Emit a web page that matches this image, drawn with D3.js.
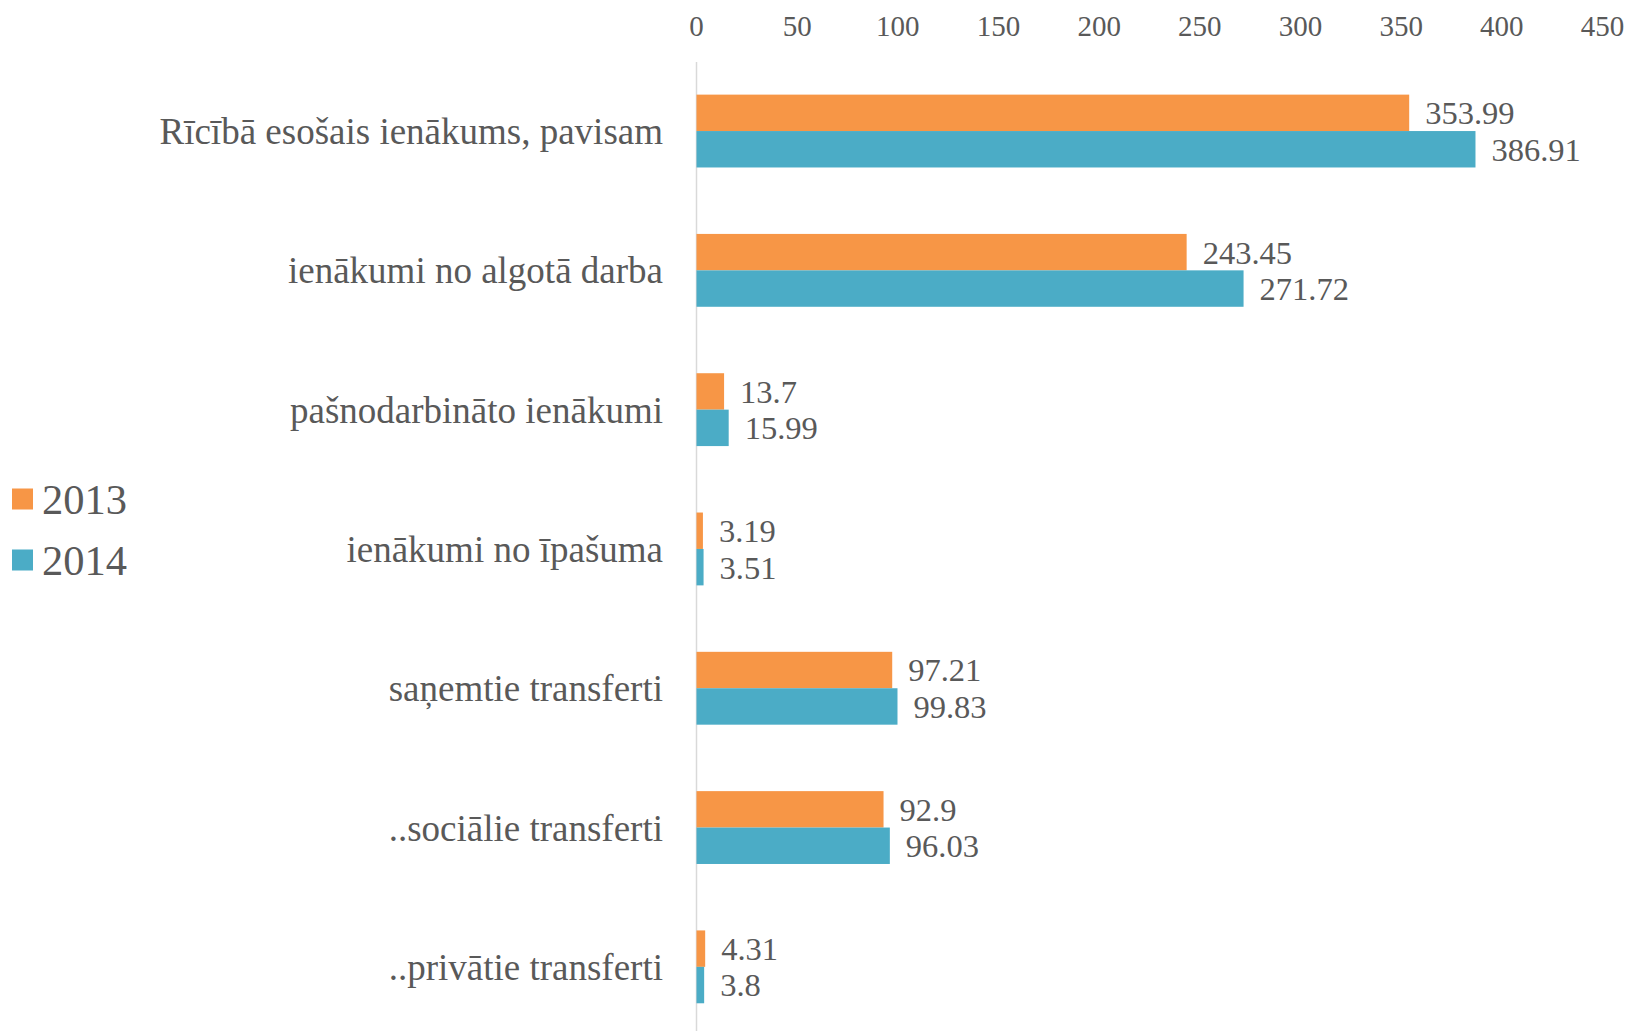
<!DOCTYPE html>
<html>
<head>
<meta charset="utf-8">
<script src="https://cdn.jsdelivr.net/npm/d3@7"></script>
<style>
  body { margin: 0; background: #fff; }
  svg text { font-family: "Liberation Serif", "Times New Roman", serif; fill: #595959; }
</style>
</head>
<body>
<svg id="chart" width="1630" height="1031"></svg>
<script>

const categories = [
	"Rīcībā esošais ienākums, pavisam",
	"ienākumi no algotā darba",
	"pašnodarbināto ienākumi",
	"ienākumi no īpašuma",
	"saņemtie transferti",
	"..sociālie transferti",
	"..privātie transferti"
];
const series_names = ["2013", "2014"];
const values_2013 = [353.99, 243.45, 13.7, 3.19, 97.21, 92.9, 4.31];
const values_2014 = [386.91, 271.72, 15.99, 3.51, 99.83, 96.03, 3.8];
const x_ticks = [0, 50, 100, 150, 200, 250, 300, 350, 400, 450];
const colors = ["#f79646", "#4bacc6"];

const svg = d3.select('#chart');

const x = d3.scaleLinear().domain([0, 450]).range([696.5, 1602.5]);
const y = d3.scaleBand().domain(categories)
	.range([61.4, 1036.5])
	.paddingInner(0.477)
	.paddingOuter(0.2385);
const sub = d3.scaleBand().domain(series_names).range([0, y.bandwidth()]);

// vertical axis line at zero
svg.append('line')
	.attr('x1', x(0)).attr('x2', x(0))
	.attr('y1', 62).attr('y2', 1031)
	.attr('stroke', '#d9d9d9')
	.attr('stroke-width', 1.5);

// top tick labels
svg.selectAll('.tick-label')
	.data(x_ticks)
	.enter()
	.append('text')
		.attr('class', 'tick-label')
		.attr('x', d => x(d))
		.attr('y', 26)
		.attr('dy', '.35em')
		.attr('text-anchor', 'middle')
		.style('font-size', '29px')
		.text(d => d);

// category labels
svg.selectAll('.cat-label')
	.data(categories)
	.enter()
	.append('text')
		.attr('class', 'cat-label')
		.attr('x', 663)
		.attr('y', d => y(d) + y.bandwidth()/2)
		.attr('dy', '.35em')
		.attr('text-anchor', 'end')
		.style('font-size', '37px')
		.text(d => d);

const series = [values_2013, values_2014];

series.forEach(function(vals, si){
	const name = series_names[si];
	const rows = categories.map((c, i) => ({cat: c, v: vals[i]}));

	svg.selectAll('.bar-' + name)
		.data(rows)
		.enter()
		.append('rect')
			.attr('class', 'bar-' + name)
			.attr('x', x(0))
			.attr('y', d => y(d.cat) + sub(name))
			.attr('width', d => x(d.v) - x(0))
			.attr('height', sub.bandwidth())
			.attr('fill', colors[si]);

	svg.selectAll('.val-' + name)
		.data(rows)
		.enter()
		.append('text')
			.attr('class', 'val-' + name)
			.attr('x', d => x(d.v) + 16)
			.attr('y', d => y(d.cat) + sub(name) + sub.bandwidth()/2)
			.attr('dy', '.35em')
			.style('font-size', '32.5px')
			.text(d => d.v);
});

// legend
const legend = svg.selectAll('.legend')
	.data(series_names)
	.enter()
	.append('g')
		.attr('class', 'legend')
		.attr('transform', (d, i) => `translate(12,${499 + i*61})`);

legend.append('rect')
	.attr('x', 0).attr('y', -10.5)
	.attr('width', 21).attr('height', 21)
	.attr('fill', (d, i) => colors[i]);

legend.append('text')
	.attr('x', 30)
	.attr('y', 0)
	.attr('dy', '.35em')
	.style('font-size', '42.5px')
	.text(d => d);

</script>
</body>
</html>
